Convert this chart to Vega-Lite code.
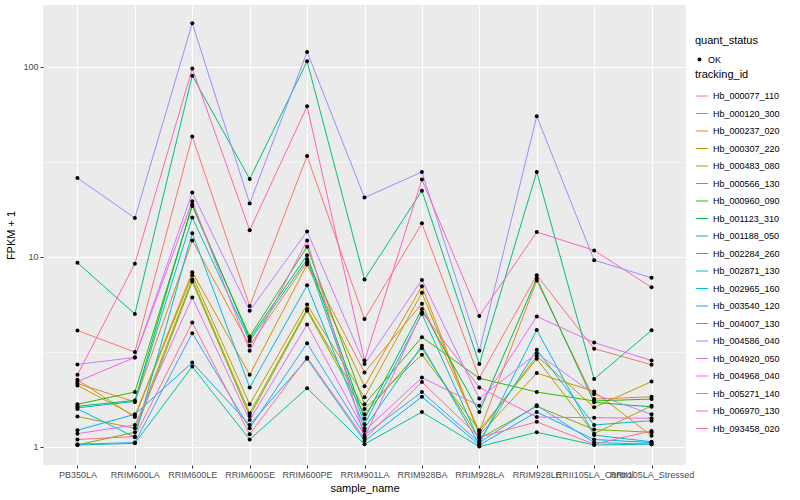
{
"$schema": "https://vega.github.io/schema/vega-lite/v6.json",
"width": 643, "height": 460,
"background": "white",
"padding": {"left": 5, "top": 5, "right": 0, "bottom": 5},
"config": {
 "view": {"fill": "#EBEBEB", "stroke": null},
 "font": "Liberation Sans",
 "axis": {"domain": false, "gridColor": "white", "tickColor": "#333333", "tickSize": 3, "labelColor": "#4D4D4D", "labelFontSize": 9, "titleFontSize": 11, "titleFontWeight": "normal", "titleColor": "black"},
 "legend": {"labelFontSize": 9, "titleFontSize": 11, "titleFontWeight": "normal", "labelColor": "black", "titleColor": "black", "symbolSize": 150, "rowPadding": 5.5, "symbolStrokeWidth": 1, "titlePadding": 9}
},
"data": {"values": [
{"tracking_id":"Hb_000077_110","sample_name":"PB350LA","FPKM1":4.09,"quant_status":"OK"},
{"tracking_id":"Hb_000077_110","sample_name":"RRIM600LA","FPKM1":3.15,"quant_status":"OK"},
{"tracking_id":"Hb_000077_110","sample_name":"RRIM600LE","FPKM1":43,"quant_status":"OK"},
{"tracking_id":"Hb_000077_110","sample_name":"RRIM600SE","FPKM1":5.5,"quant_status":"OK"},
{"tracking_id":"Hb_000077_110","sample_name":"RRIM600PE","FPKM1":34,"quant_status":"OK"},
{"tracking_id":"Hb_000077_110","sample_name":"RRIM901LA","FPKM1":4.7,"quant_status":"OK"},
{"tracking_id":"Hb_000077_110","sample_name":"RRIM928BA","FPKM1":15,"quant_status":"OK"},
{"tracking_id":"Hb_000077_110","sample_name":"RRIM928LA","FPKM1":2.3,"quant_status":"OK"},
{"tracking_id":"Hb_000077_110","sample_name":"RRIM928LE","FPKM1":8.0,"quant_status":"OK"},
{"tracking_id":"Hb_000077_110","sample_name":"RRII105LA_Control","FPKM1":3.28,"quant_status":"OK"},
{"tracking_id":"Hb_000077_110","sample_name":"RRII105LA_Stressed","FPKM1":2.7,"quant_status":"OK"},
{"tracking_id":"Hb_000120_300","sample_name":"PB350LA","FPKM1":2.15,"quant_status":"OK"},
{"tracking_id":"Hb_000120_300","sample_name":"RRIM600LA","FPKM1":1.72,"quant_status":"OK"},
{"tracking_id":"Hb_000120_300","sample_name":"RRIM600LE","FPKM1":12.2,"quant_status":"OK"},
{"tracking_id":"Hb_000120_300","sample_name":"RRIM600SE","FPKM1":3.4,"quant_status":"OK"},
{"tracking_id":"Hb_000120_300","sample_name":"RRIM600PE","FPKM1":9.4,"quant_status":"OK"},
{"tracking_id":"Hb_000120_300","sample_name":"RRIM901LA","FPKM1":2.46,"quant_status":"OK"},
{"tracking_id":"Hb_000120_300","sample_name":"RRIM928BA","FPKM1":5.66,"quant_status":"OK"},
{"tracking_id":"Hb_000120_300","sample_name":"RRIM928LA","FPKM1":1.2,"quant_status":"OK"},
{"tracking_id":"Hb_000120_300","sample_name":"RRIM928LE","FPKM1":7.5,"quant_status":"OK"},
{"tracking_id":"Hb_000120_300","sample_name":"RRII105LA_Control","FPKM1":1.78,"quant_status":"OK"},
{"tracking_id":"Hb_000120_300","sample_name":"RRII105LA_Stressed","FPKM1":1.83,"quant_status":"OK"},
{"tracking_id":"Hb_000237_020","sample_name":"PB350LA","FPKM1":2.1,"quant_status":"OK"},
{"tracking_id":"Hb_000237_020","sample_name":"RRIM600LA","FPKM1":1.45,"quant_status":"OK"},
{"tracking_id":"Hb_000237_020","sample_name":"RRIM600LE","FPKM1":8.3,"quant_status":"OK"},
{"tracking_id":"Hb_000237_020","sample_name":"RRIM600SE","FPKM1":2.39,"quant_status":"OK"},
{"tracking_id":"Hb_000237_020","sample_name":"RRIM600PE","FPKM1":9.1,"quant_status":"OK"},
{"tracking_id":"Hb_000237_020","sample_name":"RRIM901LA","FPKM1":2.08,"quant_status":"OK"},
{"tracking_id":"Hb_000237_020","sample_name":"RRIM928BA","FPKM1":7.0,"quant_status":"OK"},
{"tracking_id":"Hb_000237_020","sample_name":"RRIM928LA","FPKM1":1.15,"quant_status":"OK"},
{"tracking_id":"Hb_000237_020","sample_name":"RRIM928LE","FPKM1":2.44,"quant_status":"OK"},
{"tracking_id":"Hb_000237_020","sample_name":"RRII105LA_Control","FPKM1":1.95,"quant_status":"OK"},
{"tracking_id":"Hb_000237_020","sample_name":"RRII105LA_Stressed","FPKM1":1.14,"quant_status":"OK"},
{"tracking_id":"Hb_000307_220","sample_name":"PB350LA","FPKM1":2.25,"quant_status":"OK"},
{"tracking_id":"Hb_000307_220","sample_name":"RRIM600LA","FPKM1":1.43,"quant_status":"OK"},
{"tracking_id":"Hb_000307_220","sample_name":"RRIM600LE","FPKM1":8.0,"quant_status":"OK"},
{"tracking_id":"Hb_000307_220","sample_name":"RRIM600SE","FPKM1":1.67,"quant_status":"OK"},
{"tracking_id":"Hb_000307_220","sample_name":"RRIM600PE","FPKM1":5.6,"quant_status":"OK"},
{"tracking_id":"Hb_000307_220","sample_name":"RRIM901LA","FPKM1":1.82,"quant_status":"OK"},
{"tracking_id":"Hb_000307_220","sample_name":"RRIM928BA","FPKM1":6.47,"quant_status":"OK"},
{"tracking_id":"Hb_000307_220","sample_name":"RRIM928LA","FPKM1":1.18,"quant_status":"OK"},
{"tracking_id":"Hb_000307_220","sample_name":"RRIM928LE","FPKM1":3.0,"quant_status":"OK"},
{"tracking_id":"Hb_000307_220","sample_name":"RRII105LA_Control","FPKM1":1.61,"quant_status":"OK"},
{"tracking_id":"Hb_000307_220","sample_name":"RRII105LA_Stressed","FPKM1":2.2,"quant_status":"OK"},
{"tracking_id":"Hb_000483_080","sample_name":"PB350LA","FPKM1":1.44,"quant_status":"OK"},
{"tracking_id":"Hb_000483_080","sample_name":"RRIM600LA","FPKM1":1.25,"quant_status":"OK"},
{"tracking_id":"Hb_000483_080","sample_name":"RRIM600LE","FPKM1":7.6,"quant_status":"OK"},
{"tracking_id":"Hb_000483_080","sample_name":"RRIM600SE","FPKM1":1.5,"quant_status":"OK"},
{"tracking_id":"Hb_000483_080","sample_name":"RRIM600PE","FPKM1":5.3,"quant_status":"OK"},
{"tracking_id":"Hb_000483_080","sample_name":"RRIM901LA","FPKM1":1.58,"quant_status":"OK"},
{"tracking_id":"Hb_000483_080","sample_name":"RRIM928BA","FPKM1":3.05,"quant_status":"OK"},
{"tracking_id":"Hb_000483_080","sample_name":"RRIM928LA","FPKM1":1.22,"quant_status":"OK"},
{"tracking_id":"Hb_000483_080","sample_name":"RRIM928LE","FPKM1":2.9,"quant_status":"OK"},
{"tracking_id":"Hb_000483_080","sample_name":"RRII105LA_Control","FPKM1":1.17,"quant_status":"OK"},
{"tracking_id":"Hb_000483_080","sample_name":"RRII105LA_Stressed","FPKM1":1.64,"quant_status":"OK"},
{"tracking_id":"Hb_000566_130","sample_name":"PB350LA","FPKM1":1.02,"quant_status":"OK"},
{"tracking_id":"Hb_000566_130","sample_name":"RRIM600LA","FPKM1":1.19,"quant_status":"OK"},
{"tracking_id":"Hb_000566_130","sample_name":"RRIM600LE","FPKM1":7.4,"quant_status":"OK"},
{"tracking_id":"Hb_000566_130","sample_name":"RRIM600SE","FPKM1":1.45,"quant_status":"OK"},
{"tracking_id":"Hb_000566_130","sample_name":"RRIM600PE","FPKM1":5.2,"quant_status":"OK"},
{"tracking_id":"Hb_000566_130","sample_name":"RRIM901LA","FPKM1":1.48,"quant_status":"OK"},
{"tracking_id":"Hb_000566_130","sample_name":"RRIM928BA","FPKM1":3.3,"quant_status":"OK"},
{"tracking_id":"Hb_000566_130","sample_name":"RRIM928LA","FPKM1":1.1,"quant_status":"OK"},
{"tracking_id":"Hb_000566_130","sample_name":"RRIM928LE","FPKM1":1.63,"quant_status":"OK"},
{"tracking_id":"Hb_000566_130","sample_name":"RRII105LA_Control","FPKM1":1.23,"quant_status":"OK"},
{"tracking_id":"Hb_000566_130","sample_name":"RRII105LA_Stressed","FPKM1":1.19,"quant_status":"OK"},
{"tracking_id":"Hb_000960_090","sample_name":"PB350LA","FPKM1":1.67,"quant_status":"OK"},
{"tracking_id":"Hb_000960_090","sample_name":"RRIM600LA","FPKM1":1.94,"quant_status":"OK"},
{"tracking_id":"Hb_000960_090","sample_name":"RRIM600LE","FPKM1":18.5,"quant_status":"OK"},
{"tracking_id":"Hb_000960_090","sample_name":"RRIM600SE","FPKM1":3.8,"quant_status":"OK"},
{"tracking_id":"Hb_000960_090","sample_name":"RRIM600PE","FPKM1":11.3,"quant_status":"OK"},
{"tracking_id":"Hb_000960_090","sample_name":"RRIM901LA","FPKM1":1.67,"quant_status":"OK"},
{"tracking_id":"Hb_000960_090","sample_name":"RRIM928BA","FPKM1":3.77,"quant_status":"OK"},
{"tracking_id":"Hb_000960_090","sample_name":"RRIM928LA","FPKM1":2.29,"quant_status":"OK"},
{"tracking_id":"Hb_000960_090","sample_name":"RRIM928LE","FPKM1":1.94,"quant_status":"OK"},
{"tracking_id":"Hb_000960_090","sample_name":"RRII105LA_Control","FPKM1":1.74,"quant_status":"OK"},
{"tracking_id":"Hb_000960_090","sample_name":"RRII105LA_Stressed","FPKM1":1.78,"quant_status":"OK"},
{"tracking_id":"Hb_001123_310","sample_name":"PB350LA","FPKM1":1.63,"quant_status":"OK"},
{"tracking_id":"Hb_001123_310","sample_name":"RRIM600LA","FPKM1":1.75,"quant_status":"OK"},
{"tracking_id":"Hb_001123_310","sample_name":"RRIM600LE","FPKM1":18.9,"quant_status":"OK"},
{"tracking_id":"Hb_001123_310","sample_name":"RRIM600SE","FPKM1":3.7,"quant_status":"OK"},
{"tracking_id":"Hb_001123_310","sample_name":"RRIM600PE","FPKM1":10.2,"quant_status":"OK"},
{"tracking_id":"Hb_001123_310","sample_name":"RRIM901LA","FPKM1":1.4,"quant_status":"OK"},
{"tracking_id":"Hb_001123_310","sample_name":"RRIM928BA","FPKM1":5.3,"quant_status":"OK"},
{"tracking_id":"Hb_001123_310","sample_name":"RRIM928LA","FPKM1":1.52,"quant_status":"OK"},
{"tracking_id":"Hb_001123_310","sample_name":"RRIM928LE","FPKM1":7.7,"quant_status":"OK"},
{"tracking_id":"Hb_001123_310","sample_name":"RRII105LA_Control","FPKM1":1.71,"quant_status":"OK"},
{"tracking_id":"Hb_001123_310","sample_name":"RRII105LA_Stressed","FPKM1":1.62,"quant_status":"OK"},
{"tracking_id":"Hb_001188_050","sample_name":"PB350LA","FPKM1":9.3,"quant_status":"OK"},
{"tracking_id":"Hb_001188_050","sample_name":"RRIM600LA","FPKM1":5.0,"quant_status":"OK"},
{"tracking_id":"Hb_001188_050","sample_name":"RRIM600LE","FPKM1":90,"quant_status":"OK"},
{"tracking_id":"Hb_001188_050","sample_name":"RRIM600SE","FPKM1":25.7,"quant_status":"OK"},
{"tracking_id":"Hb_001188_050","sample_name":"RRIM600PE","FPKM1":107,"quant_status":"OK"},
{"tracking_id":"Hb_001188_050","sample_name":"RRIM901LA","FPKM1":7.6,"quant_status":"OK"},
{"tracking_id":"Hb_001188_050","sample_name":"RRIM928BA","FPKM1":22.3,"quant_status":"OK"},
{"tracking_id":"Hb_001188_050","sample_name":"RRIM928LA","FPKM1":2.72,"quant_status":"OK"},
{"tracking_id":"Hb_001188_050","sample_name":"RRIM928LE","FPKM1":28,"quant_status":"OK"},
{"tracking_id":"Hb_001188_050","sample_name":"RRII105LA_Control","FPKM1":2.27,"quant_status":"OK"},
{"tracking_id":"Hb_001188_050","sample_name":"RRII105LA_Stressed","FPKM1":4.1,"quant_status":"OK"},
{"tracking_id":"Hb_002284_260","sample_name":"PB350LA","FPKM1":1.02,"quant_status":"OK"},
{"tracking_id":"Hb_002284_260","sample_name":"RRIM600LA","FPKM1":1.04,"quant_status":"OK"},
{"tracking_id":"Hb_002284_260","sample_name":"RRIM600LE","FPKM1":2.64,"quant_status":"OK"},
{"tracking_id":"Hb_002284_260","sample_name":"RRIM600SE","FPKM1":1.09,"quant_status":"OK"},
{"tracking_id":"Hb_002284_260","sample_name":"RRIM600PE","FPKM1":2.03,"quant_status":"OK"},
{"tracking_id":"Hb_002284_260","sample_name":"RRIM901LA","FPKM1":1.03,"quant_status":"OK"},
{"tracking_id":"Hb_002284_260","sample_name":"RRIM928BA","FPKM1":1.52,"quant_status":"OK"},
{"tracking_id":"Hb_002284_260","sample_name":"RRIM928LA","FPKM1":1.0,"quant_status":"OK"},
{"tracking_id":"Hb_002284_260","sample_name":"RRIM928LE","FPKM1":1.19,"quant_status":"OK"},
{"tracking_id":"Hb_002284_260","sample_name":"RRII105LA_Control","FPKM1":1.02,"quant_status":"OK"},
{"tracking_id":"Hb_002284_260","sample_name":"RRII105LA_Stressed","FPKM1":1.03,"quant_status":"OK"},
{"tracking_id":"Hb_002871_130","sample_name":"PB350LA","FPKM1":1.6,"quant_status":"OK"},
{"tracking_id":"Hb_002871_130","sample_name":"RRIM600LA","FPKM1":1.73,"quant_status":"OK"},
{"tracking_id":"Hb_002871_130","sample_name":"RRIM600LE","FPKM1":16.1,"quant_status":"OK"},
{"tracking_id":"Hb_002871_130","sample_name":"RRIM600SE","FPKM1":3.6,"quant_status":"OK"},
{"tracking_id":"Hb_002871_130","sample_name":"RRIM600PE","FPKM1":9.7,"quant_status":"OK"},
{"tracking_id":"Hb_002871_130","sample_name":"RRIM901LA","FPKM1":1.31,"quant_status":"OK"},
{"tracking_id":"Hb_002871_130","sample_name":"RRIM928BA","FPKM1":5.0,"quant_status":"OK"},
{"tracking_id":"Hb_002871_130","sample_name":"RRIM928LA","FPKM1":1.07,"quant_status":"OK"},
{"tracking_id":"Hb_002871_130","sample_name":"RRIM928LE","FPKM1":3.24,"quant_status":"OK"},
{"tracking_id":"Hb_002871_130","sample_name":"RRII105LA_Control","FPKM1":1.3,"quant_status":"OK"},
{"tracking_id":"Hb_002871_130","sample_name":"RRII105LA_Stressed","FPKM1":1.37,"quant_status":"OK"},
{"tracking_id":"Hb_002965_160","sample_name":"PB350LA","FPKM1":1.58,"quant_status":"OK"},
{"tracking_id":"Hb_002965_160","sample_name":"RRIM600LA","FPKM1":1.12,"quant_status":"OK"},
{"tracking_id":"Hb_002965_160","sample_name":"RRIM600LE","FPKM1":13.3,"quant_status":"OK"},
{"tracking_id":"Hb_002965_160","sample_name":"RRIM600SE","FPKM1":2.05,"quant_status":"OK"},
{"tracking_id":"Hb_002965_160","sample_name":"RRIM600PE","FPKM1":7.07,"quant_status":"OK"},
{"tracking_id":"Hb_002965_160","sample_name":"RRIM901LA","FPKM1":1.25,"quant_status":"OK"},
{"tracking_id":"Hb_002965_160","sample_name":"RRIM928BA","FPKM1":3.4,"quant_status":"OK"},
{"tracking_id":"Hb_002965_160","sample_name":"RRIM928LA","FPKM1":1.03,"quant_status":"OK"},
{"tracking_id":"Hb_002965_160","sample_name":"RRIM928LE","FPKM1":4.12,"quant_status":"OK"},
{"tracking_id":"Hb_002965_160","sample_name":"RRII105LA_Control","FPKM1":1.15,"quant_status":"OK"},
{"tracking_id":"Hb_002965_160","sample_name":"RRII105LA_Stressed","FPKM1":1.06,"quant_status":"OK"},
{"tracking_id":"Hb_003540_120","sample_name":"PB350LA","FPKM1":1.22,"quant_status":"OK"},
{"tracking_id":"Hb_003540_120","sample_name":"RRIM600LA","FPKM1":1.48,"quant_status":"OK"},
{"tracking_id":"Hb_003540_120","sample_name":"RRIM600LE","FPKM1":2.77,"quant_status":"OK"},
{"tracking_id":"Hb_003540_120","sample_name":"RRIM600SE","FPKM1":1.3,"quant_status":"OK"},
{"tracking_id":"Hb_003540_120","sample_name":"RRIM600PE","FPKM1":2.9,"quant_status":"OK"},
{"tracking_id":"Hb_003540_120","sample_name":"RRIM901LA","FPKM1":1.07,"quant_status":"OK"},
{"tracking_id":"Hb_003540_120","sample_name":"RRIM928BA","FPKM1":1.83,"quant_status":"OK"},
{"tracking_id":"Hb_003540_120","sample_name":"RRIM928LA","FPKM1":1.02,"quant_status":"OK"},
{"tracking_id":"Hb_003540_120","sample_name":"RRIM928LE","FPKM1":1.52,"quant_status":"OK"},
{"tracking_id":"Hb_003540_120","sample_name":"RRII105LA_Control","FPKM1":1.09,"quant_status":"OK"},
{"tracking_id":"Hb_003540_120","sample_name":"RRII105LA_Stressed","FPKM1":1.05,"quant_status":"OK"},
{"tracking_id":"Hb_004007_130","sample_name":"PB350LA","FPKM1":1.03,"quant_status":"OK"},
{"tracking_id":"Hb_004007_130","sample_name":"RRIM600LA","FPKM1":1.05,"quant_status":"OK"},
{"tracking_id":"Hb_004007_130","sample_name":"RRIM600LE","FPKM1":3.96,"quant_status":"OK"},
{"tracking_id":"Hb_004007_130","sample_name":"RRIM600SE","FPKM1":1.25,"quant_status":"OK"},
{"tracking_id":"Hb_004007_130","sample_name":"RRIM600PE","FPKM1":3.5,"quant_status":"OK"},
{"tracking_id":"Hb_004007_130","sample_name":"RRIM901LA","FPKM1":1.15,"quant_status":"OK"},
{"tracking_id":"Hb_004007_130","sample_name":"RRIM928BA","FPKM1":1.94,"quant_status":"OK"},
{"tracking_id":"Hb_004007_130","sample_name":"RRIM928LA","FPKM1":1.05,"quant_status":"OK"},
{"tracking_id":"Hb_004007_130","sample_name":"RRIM928LE","FPKM1":1.65,"quant_status":"OK"},
{"tracking_id":"Hb_004007_130","sample_name":"RRII105LA_Control","FPKM1":1.05,"quant_status":"OK"},
{"tracking_id":"Hb_004007_130","sample_name":"RRII105LA_Stressed","FPKM1":1.03,"quant_status":"OK"},
{"tracking_id":"Hb_004586_040","sample_name":"PB350LA","FPKM1":26,"quant_status":"OK"},
{"tracking_id":"Hb_004586_040","sample_name":"RRIM600LA","FPKM1":16,"quant_status":"OK"},
{"tracking_id":"Hb_004586_040","sample_name":"RRIM600LE","FPKM1":170,"quant_status":"OK"},
{"tracking_id":"Hb_004586_040","sample_name":"RRIM600SE","FPKM1":19.1,"quant_status":"OK"},
{"tracking_id":"Hb_004586_040","sample_name":"RRIM600PE","FPKM1":120,"quant_status":"OK"},
{"tracking_id":"Hb_004586_040","sample_name":"RRIM901LA","FPKM1":20.5,"quant_status":"OK"},
{"tracking_id":"Hb_004586_040","sample_name":"RRIM928BA","FPKM1":28,"quant_status":"OK"},
{"tracking_id":"Hb_004586_040","sample_name":"RRIM928LA","FPKM1":3.2,"quant_status":"OK"},
{"tracking_id":"Hb_004586_040","sample_name":"RRIM928LE","FPKM1":55,"quant_status":"OK"},
{"tracking_id":"Hb_004586_040","sample_name":"RRII105LA_Control","FPKM1":9.6,"quant_status":"OK"},
{"tracking_id":"Hb_004586_040","sample_name":"RRII105LA_Stressed","FPKM1":7.75,"quant_status":"OK"},
{"tracking_id":"Hb_004920_050","sample_name":"PB350LA","FPKM1":2.71,"quant_status":"OK"},
{"tracking_id":"Hb_004920_050","sample_name":"RRIM600LA","FPKM1":2.95,"quant_status":"OK"},
{"tracking_id":"Hb_004920_050","sample_name":"RRIM600LE","FPKM1":21.8,"quant_status":"OK"},
{"tracking_id":"Hb_004920_050","sample_name":"RRIM600SE","FPKM1":5.2,"quant_status":"OK"},
{"tracking_id":"Hb_004920_050","sample_name":"RRIM600PE","FPKM1":13.6,"quant_status":"OK"},
{"tracking_id":"Hb_004920_050","sample_name":"RRIM901LA","FPKM1":2.72,"quant_status":"OK"},
{"tracking_id":"Hb_004920_050","sample_name":"RRIM928BA","FPKM1":7.55,"quant_status":"OK"},
{"tracking_id":"Hb_004920_050","sample_name":"RRIM928LA","FPKM1":1.79,"quant_status":"OK"},
{"tracking_id":"Hb_004920_050","sample_name":"RRIM928LE","FPKM1":3.1,"quant_status":"OK"},
{"tracking_id":"Hb_004920_050","sample_name":"RRII105LA_Control","FPKM1":1.89,"quant_status":"OK"},
{"tracking_id":"Hb_004920_050","sample_name":"RRII105LA_Stressed","FPKM1":1.48,"quant_status":"OK"},
{"tracking_id":"Hb_004968_040","sample_name":"PB350LA","FPKM1":1.17,"quant_status":"OK"},
{"tracking_id":"Hb_004968_040","sample_name":"RRIM600LA","FPKM1":1.3,"quant_status":"OK"},
{"tracking_id":"Hb_004968_040","sample_name":"RRIM600LE","FPKM1":6.1,"quant_status":"OK"},
{"tracking_id":"Hb_004968_040","sample_name":"RRIM600SE","FPKM1":1.38,"quant_status":"OK"},
{"tracking_id":"Hb_004968_040","sample_name":"RRIM600PE","FPKM1":4.4,"quant_status":"OK"},
{"tracking_id":"Hb_004968_040","sample_name":"RRIM901LA","FPKM1":1.21,"quant_status":"OK"},
{"tracking_id":"Hb_004968_040","sample_name":"RRIM928BA","FPKM1":2.31,"quant_status":"OK"},
{"tracking_id":"Hb_004968_040","sample_name":"RRIM928LA","FPKM1":1.64,"quant_status":"OK"},
{"tracking_id":"Hb_004968_040","sample_name":"RRIM928LE","FPKM1":4.85,"quant_status":"OK"},
{"tracking_id":"Hb_004968_040","sample_name":"RRII105LA_Control","FPKM1":3.53,"quant_status":"OK"},
{"tracking_id":"Hb_004968_040","sample_name":"RRII105LA_Stressed","FPKM1":2.84,"quant_status":"OK"},
{"tracking_id":"Hb_005271_140","sample_name":"PB350LA","FPKM1":2.2,"quant_status":"OK"},
{"tracking_id":"Hb_005271_140","sample_name":"RRIM600LA","FPKM1":2.95,"quant_status":"OK"},
{"tracking_id":"Hb_005271_140","sample_name":"RRIM600LE","FPKM1":19.6,"quant_status":"OK"},
{"tracking_id":"Hb_005271_140","sample_name":"RRIM600SE","FPKM1":3.2,"quant_status":"OK"},
{"tracking_id":"Hb_005271_140","sample_name":"RRIM600PE","FPKM1":12.2,"quant_status":"OK"},
{"tracking_id":"Hb_005271_140","sample_name":"RRIM901LA","FPKM1":1.12,"quant_status":"OK"},
{"tracking_id":"Hb_005271_140","sample_name":"RRIM928BA","FPKM1":5.1,"quant_status":"OK"},
{"tracking_id":"Hb_005271_140","sample_name":"RRIM928LA","FPKM1":2.05,"quant_status":"OK"},
{"tracking_id":"Hb_005271_140","sample_name":"RRIM928LE","FPKM1":1.43,"quant_status":"OK"},
{"tracking_id":"Hb_005271_140","sample_name":"RRII105LA_Control","FPKM1":1.42,"quant_status":"OK"},
{"tracking_id":"Hb_005271_140","sample_name":"RRII105LA_Stressed","FPKM1":1.41,"quant_status":"OK"},
{"tracking_id":"Hb_006970_130","sample_name":"PB350LA","FPKM1":2.39,"quant_status":"OK"},
{"tracking_id":"Hb_006970_130","sample_name":"RRIM600LA","FPKM1":9.2,"quant_status":"OK"},
{"tracking_id":"Hb_006970_130","sample_name":"RRIM600LE","FPKM1":98,"quant_status":"OK"},
{"tracking_id":"Hb_006970_130","sample_name":"RRIM600SE","FPKM1":13.8,"quant_status":"OK"},
{"tracking_id":"Hb_006970_130","sample_name":"RRIM600PE","FPKM1":62,"quant_status":"OK"},
{"tracking_id":"Hb_006970_130","sample_name":"RRIM901LA","FPKM1":2.84,"quant_status":"OK"},
{"tracking_id":"Hb_006970_130","sample_name":"RRIM928BA","FPKM1":25.5,"quant_status":"OK"},
{"tracking_id":"Hb_006970_130","sample_name":"RRIM928LA","FPKM1":4.87,"quant_status":"OK"},
{"tracking_id":"Hb_006970_130","sample_name":"RRIM928LE","FPKM1":13.5,"quant_status":"OK"},
{"tracking_id":"Hb_006970_130","sample_name":"RRII105LA_Control","FPKM1":10.8,"quant_status":"OK"},
{"tracking_id":"Hb_006970_130","sample_name":"RRII105LA_Stressed","FPKM1":6.9,"quant_status":"OK"},
{"tracking_id":"Hb_093458_020","sample_name":"PB350LA","FPKM1":1.09,"quant_status":"OK"},
{"tracking_id":"Hb_093458_020","sample_name":"RRIM600LA","FPKM1":1.13,"quant_status":"OK"},
{"tracking_id":"Hb_093458_020","sample_name":"RRIM600LE","FPKM1":4.5,"quant_status":"OK"},
{"tracking_id":"Hb_093458_020","sample_name":"RRIM600SE","FPKM1":1.16,"quant_status":"OK"},
{"tracking_id":"Hb_093458_020","sample_name":"RRIM600PE","FPKM1":2.95,"quant_status":"OK"},
{"tracking_id":"Hb_093458_020","sample_name":"RRIM901LA","FPKM1":1.1,"quant_status":"OK"},
{"tracking_id":"Hb_093458_020","sample_name":"RRIM928BA","FPKM1":2.19,"quant_status":"OK"},
{"tracking_id":"Hb_093458_020","sample_name":"RRIM928LA","FPKM1":1.12,"quant_status":"OK"},
{"tracking_id":"Hb_093458_020","sample_name":"RRIM928LE","FPKM1":1.35,"quant_status":"OK"},
{"tracking_id":"Hb_093458_020","sample_name":"RRII105LA_Control","FPKM1":1.03,"quant_status":"OK"},
{"tracking_id":"Hb_093458_020","sample_name":"RRII105LA_Stressed","FPKM1":1.21,"quant_status":"OK"}
]},
"encoding": {
 "x": {"field": "sample_name", "type": "nominal",
  "sort": ["PB350LA","RRIM600LA","RRIM600LE","RRIM600SE","RRIM600PE","RRIM901LA","RRIM928BA","RRIM928LA","RRIM928LE","RRII105LA_Control","RRII105LA_Stressed"],
  "scale": {"type": "point", "padding": 0.6},
  "axis": {"title": "sample_name", "labelAngle": 0, "labelOverlap": false, "grid": true, "gridWidth": 1.1, "labelPadding": 2, "titlePadding": 3}},
 "y": {"field": "FPKM1", "type": "quantitative",
  "scale": {"type": "log", "domain": [0.8, 212], "nice": false},
  "axis": {"title": "FPKM + 1", "values": [1, 3.1623, 10, 31.623, 100],
   "labelExpr": "datum.value == 1 ? '1' : datum.value == 10 ? '10' : datum.value == 100 ? '100' : ''",
   "gridWidth": {"condition": {"test": "datum.value == 1 || datum.value == 10 || datum.value == 100", "value": 1.1}, "value": 0.5},
   "tickOpacity": {"condition": {"test": "datum.value == 1 || datum.value == 10 || datum.value == 100", "value": 1}, "value": 0},
   "labelPadding": 2, "titlePadding": 6}}
},
"layer": [
 {"mark": {"type": "line", "strokeWidth": 1},
  "encoding": {"color": {"field": "tracking_id", "type": "nominal",
   "scale": {"range": ["#F8766D","#EA8331","#D89000","#C09B00","#A3A500","#7CAE00","#39B600","#00BB4E","#00BF7D","#00C1A3","#00BFC4","#00BAE0","#00B0F6","#35A2FF","#9590FF","#C77CFF","#E76BF3","#FA62DB","#FF62BC","#FF6C91"]},
   "legend": {"title": "tracking_id", "orient": "none", "legendX": 652, "legendY": 64, "symbolType": "stroke"}}}},
 {"mark": {"type": "point", "filled": true, "color": "black", "size": 16, "opacity": 1},
  "encoding": {"shape": {"field": "quant_status", "type": "nominal",
   "legend": {"title": "quant_status", "orient": "none", "legendX": 652, "legendY": 30, "symbolSize": 16}}}}
]
}
